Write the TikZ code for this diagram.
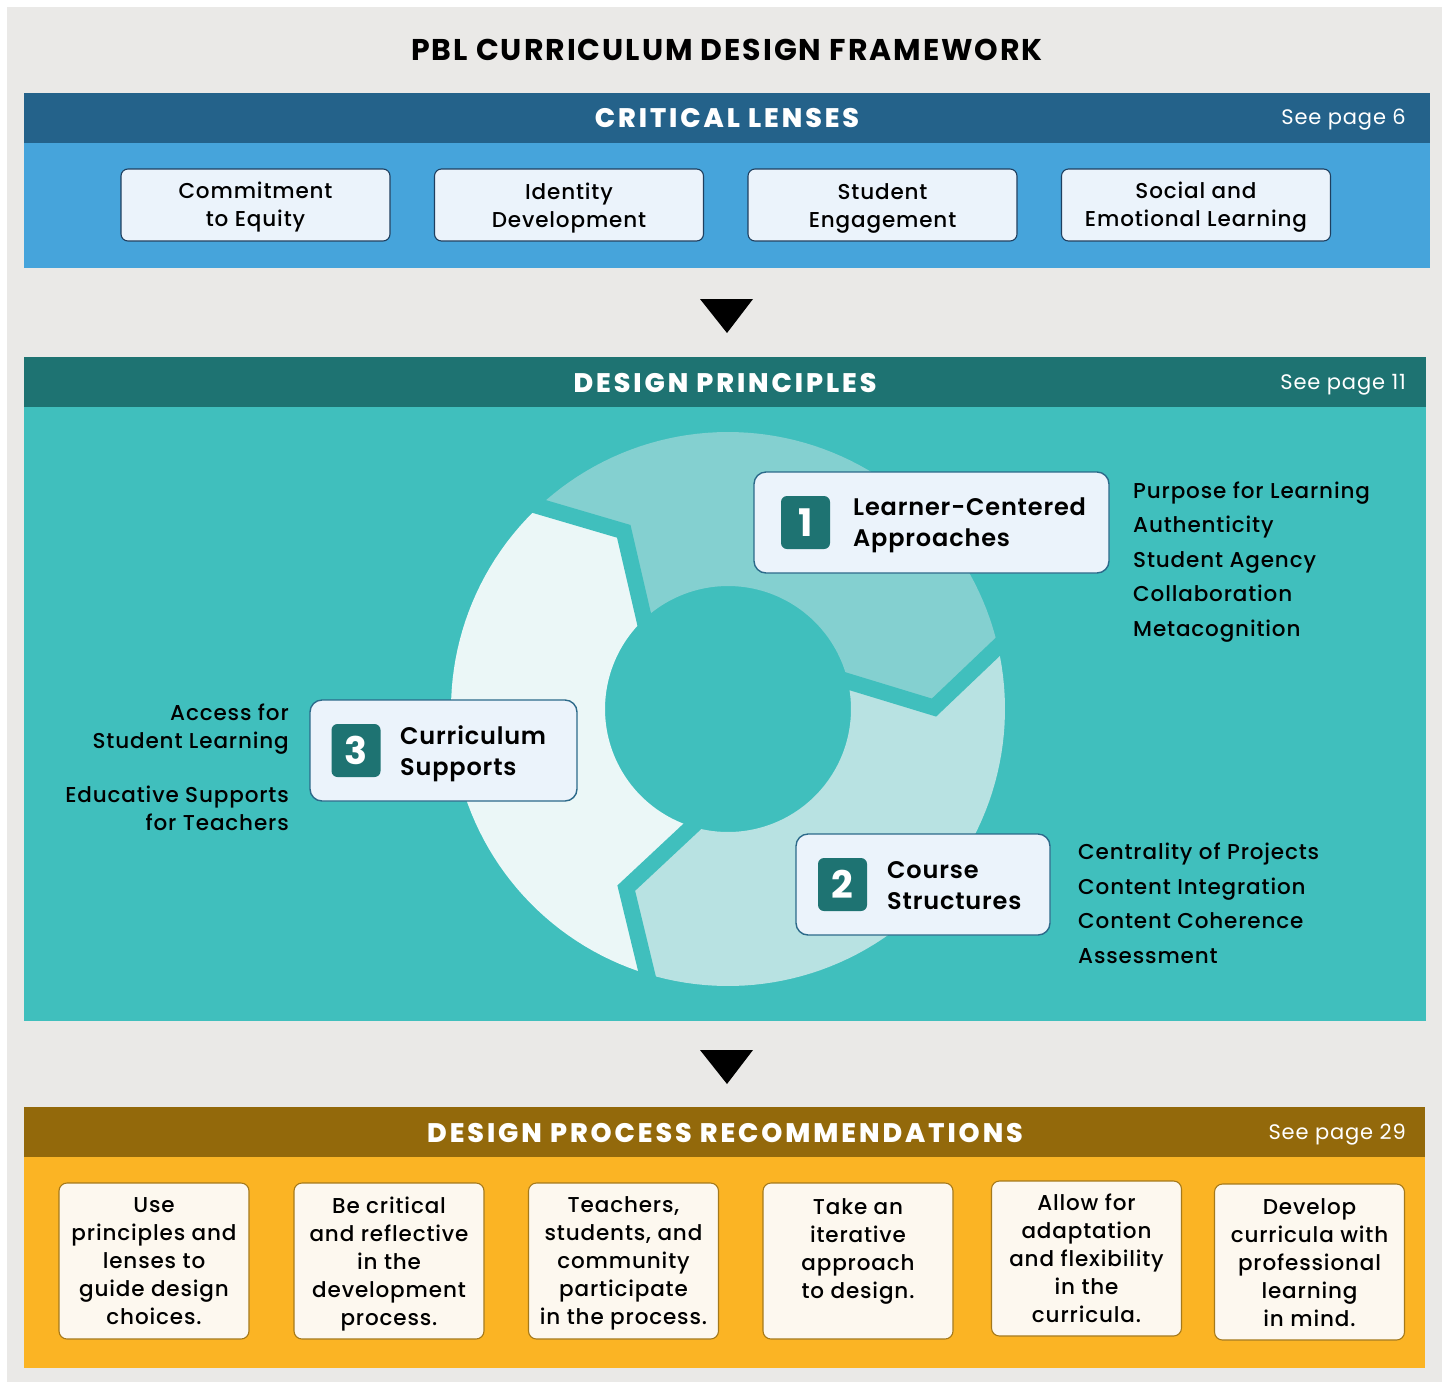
\documentclass[tikz,border=0pt]{standalone}
\usepackage{fontspec}
\setmainfont{Poppins}[LetterSpace=4]
\newfontfamily\fmed{Poppins Medium}[LetterSpace=4]
\newfontfamily\fbold{Poppins SemiBold}[LetterSpace=3.5]
\newfontfamily\fbolder{Poppins Bold}
\newfontfamily\ftitle{Poppins Bold}[LetterSpace=6.5]
\newfontfamily\fhead{Poppins ExtraBold}[LetterSpace=11]
\usetikzlibrary{calc}
\definecolor{pagebg}{HTML}{EAE9E7}
\definecolor{lenshead}{HTML}{24628A}
\definecolor{lensbody}{HTML}{46A4DB}
\definecolor{lensfill}{HTML}{EBF3FB}
\definecolor{lensline}{HTML}{1F3F5F}
\definecolor{dphead}{HTML}{1E7372}
\definecolor{dpbody}{HTML}{40BFBD}
\definecolor{segA}{HTML}{84D0D0}
\definecolor{segB}{HTML}{B8E2E2}
\definecolor{segC}{HTML}{EBF7F7}
\definecolor{dpline}{HTML}{2C6A8A}
\definecolor{prochead}{HTML}{93690B}
\definecolor{procbody}{HTML}{FBB424}
\definecolor{procfill}{HTML}{FDF8EF}
\definecolor{procline}{HTML}{A5791A}
\tikzset{
  headtext/.style={text=white, inner sep=0, font=\fhead\fontsize{26.8}{28}\selectfont},
  pagetext/.style={text=white, anchor=east, inner sep=0, font=\fontsize{21}{24}\selectfont},
  lensbox/.style={rectangle, rounded corners=7, fill=lensfill, draw=lensline, line width=1.1,
    minimum width=269, minimum height=72},
  lenstext/.style={align=center, inner sep=0, font=\fmed\fontsize{21.5}{28}\selectfont},
  dpbox/.style={rectangle, rounded corners=12, fill=lensfill, draw=dpline, line width=1.4, inner sep=0},
  numbox/.style={rectangle, rounded corners=6, fill=dphead, text=white, inner sep=0,
    minimum width=49, minimum height=53, font=\fbolder\fontsize{38}{40}\selectfont},
  dptitle/.style={anchor=west, align=left, inner sep=0, font=\fbold\fontsize{24}{31}\selectfont},
  listtext/.style={anchor=base west, inner sep=0, font=\fmed\fontsize{21.5}{24}\selectfont},
  lefttext/.style={anchor=east, align=right, inner sep=0, font=\fmed\fontsize{21.5}{28}\selectfont},
  procbox/.style={rectangle, rounded corners=8, fill=procfill, draw=procline, line width=1.1,
    minimum width=190, minimum height=156, inner sep=0},
  proctext/.style={align=center, inner sep=0, font=\fmed\fontsize{21.5}{28}\selectfont},
}
\begin{document}
\begin{tikzpicture}[x=1pt,y=-1pt]
\useasboundingbox (0,0) rectangle (1448,1382);
\fill[white] (0,0) rectangle (1448,1382);
\fill[pagebg] (7,7) rectangle (1442,1382);

% title
\node[font=\ftitle\fontsize{30}{32}\selectfont, inner sep=0] (title) at (727,50) {PBL CURRICULUM DESIGN FRAMEWORK};

% ---------- critical lenses
\fill[lenshead] (24,93) rectangle (1430,143);
\fill[lensbody] (24,143) rectangle (1430,268);
\node[headtext] (lh) at (727,118) {CRITICAL LENSES};
\node[pagetext] (lp) at (1406,120) {See page 6};
\node[lensbox] (l1) at (255.5,205) {};
\node[lensbox] (l2) at (569,205) {};
\node[lensbox] (l3) at (882.5,205) {};
\node[lensbox] (l4) at (1196,205) {};
\node[lenstext] (k1) at (255.5,207) {Commitment\\to Equity};
\node[lenstext] (k2) at (569,208) {Identity\\Development};
\node[lenstext] (k3) at (882.5,208) {Student\\Engagement};
\node[lenstext] (k4) at (1196,207) {Social and\\Emotional Learning};

% arrow 1
\fill[black] (700,299) -- (753,299) -- (727,333) -- cycle;

% ---------- design principles
\fill[dphead] (24,357) rectangle (1426,407);
\fill[dpbody] (24,407) rectangle (1426,1021);
\node[headtext] (dh) at (725,383) {DESIGN PRINCIPLES};
\node[pagetext] (dp) at (1406,385) {See page 11};

% ring
\begin{scope}[shift={(728,709)}, yscale=-1]
  \foreach \t/\c in {133/segA, 13/segB, 253/segC}{
    \pgfmathsetmacro{\h}{\t-120}
    \fill[\c] (\t:277) -- ({\t-12.6}:206) -- (\t:123)
      -- plot[domain=\t:\h, samples=60] (\x:123)
      -- ({\h-12.6}:206) -- (\h:277)
      -- plot[domain=\h:\t, samples=60] (\x:277) -- cycle;
  }
  \foreach \b in {133, 13, 253}{
    \draw[dpbody, line width=16, line join=miter, line cap=rect]
      (\b:277) -- ({\b-12.6}:206) -- (\b:123);
  }
\end{scope}

% principle boxes
\node[dpbox, minimum width=355, minimum height=101] (b1) at (931.5,522.5) {};
\node[numbox] (n1) at (805.5,522.5) {1};
\node[dptitle] (t1) at (853,525.5) {Learner-Centered\\Approaches};

\node[dpbox, minimum width=267, minimum height=101] (b3) at (443.5,750.5) {};
\node[numbox] (n3) at (356,750.5) {3};
\node[dptitle] (t3) at (400,754) {Curriculum\\Supports};

\node[dpbox, minimum width=254, minimum height=101] (b2) at (923,884.5) {};
\node[numbox] (n2) at (842.5,884.5) {2};
\node[dptitle] (t2) at (887,886) {Course\\Structures};

% lists
\node[listtext] (a1) at (1133,498) {Purpose for Learning};
\node[listtext] (a2) at (1133,532.5) {Authenticity};
\node[listtext] (a3) at (1133,567) {Student Agency};
\node[listtext] (a4) at (1133,601.5) {Collaboration};
\node[listtext] (a5) at (1133,636) {Metacognition};

\node[listtext] (c1) at (1078,859) {Centrality of Projects};
\node[listtext] (c2) at (1078,894) {Content Integration};
\node[listtext] (c3) at (1078,928) {Content Coherence};
\node[listtext] (c4) at (1078,963) {Assessment};

\node[lefttext] (s1) at (289,729) {Access for\\Student Learning};
\node[lefttext] (s2) at (289,808.5) {Educative Supports\\for Teachers};

% arrow 2
\fill[black] (700,1050) -- (753,1050) -- (727,1084) -- cycle;

% ---------- design process recommendations
\fill[prochead] (24,1107) rectangle (1425,1157);
\fill[procbody] (24,1157) rectangle (1425,1368);
\node[headtext] (ph) at (725,1133) {DESIGN PROCESS RECOMMENDATIONS};
\node[pagetext] (pp) at (1406,1135) {See page 29};

\node[procbox] (p1) at (154,1261) {};
\node[procbox] (p2) at (389,1261) {};
\node[procbox] (p3) at (623.5,1261) {};
\node[procbox] (p4) at (858,1261) {};
\node[procbox, minimum height=155] (p5) at (1086.5,1258.5) {};
\node[procbox] (p6) at (1309.5,1262) {};

\node[proctext] (q1) at (154,1261) {Use\\principles and\\lenses to\\guide design\\choices.};
\node[proctext] (q2) at (389,1264) {Be critical\\and reflective\\in the\\development\\process.};
\node[proctext] (q3) at (623.5,1263) {Teachers,\\students, and\\community\\participate\\in the process.};
\node[proctext] (q4) at (858,1251) {Take an\\iterative\\approach\\to design.};
\node[proctext] (q5) at (1086.5,1258.5) {Allow for\\adaptation\\and flexibility\\in the\\curricula.};
\node[proctext] (q6) at (1309.5,1262.5) {Develop\\curricula with\\professional\\learning\\in mind.};
\end{tikzpicture}
\end{document}
